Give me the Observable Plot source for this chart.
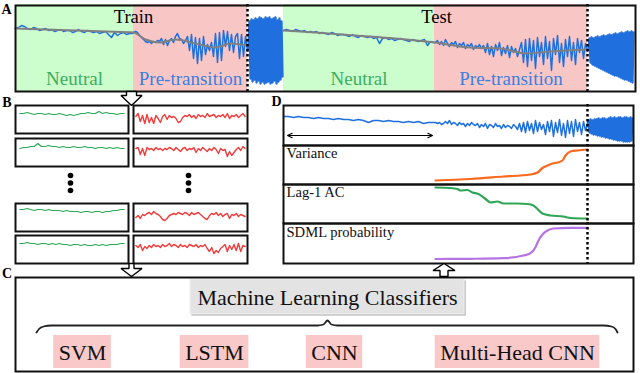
<!DOCTYPE html>
<html><head><meta charset="utf-8">
<script src="https://cdn.jsdelivr.net/npm/d3@7"></script>
<script src="https://cdn.jsdelivr.net/npm/@observablehq/plot@0.6"></script>
<style>
html,body{margin:0;padding:0;background:#fff;}
#chart{position:relative;width:640px;height:373px;overflow:hidden;}
#chart svg{position:absolute;overflow:visible;max-width:none;}
</style></head><body><div id="chart"></div>
<script>
// ================= DATA =================
// Panel A: phases of the simulated series (time steps)
const phaseKind  = ["neutral","pre","transition","neutral","pre","transition"];
const phaseLabel = ["Neutral","Pre-transition","","Neutral","Pre-transition",""];
const phaseStart = [0,118,232,268,419,572];
const phaseEnd   = [118,232,268,419,572,621];
const setNames   = ["Train","Test"];
const setSplit   = [118,421];

// Panel A signal, segment by segment
const trainNeutral = [20,21,23,22,20,19,21,20,18,19, 20,18,19,17,18,19,17,18,18,16, 17,19,17,16,18,17,16,17,15,16, 17,14,11,16,13,15,16,14,15,15];
const trainPre = [16,17,16,13,11,9,7,6,7,5,7,6,8, 7,10,4,9,3,8,10,6,12,15,10,9,5,8, 12,-2,14,-10,11,-15,10,-12,12,-6, 4,-2,6,-8,15,-14,16,-12, 18,2,17,-2,14,-4,12, 15,-10,14,-8,12,-2];
const trainTrans = [2,27,-30,29,-33,28,-31,30,-34,29,-32,31,-35,30,-33,29,-35,31,-34,30,-33,31,-35,29,-34,30,-32,31,-35,28,-33,30,-31,27,-28];
const testNeutral = [18,19,18,17,19,18,17,18,16,17, 16,17,15,16,15,14,16,15,13,14, 14,13,12,14,12,11,13,12,11,12, 10,11,5,10,11,9,10,8,9,10, 9,8,7,9,8,7,8,9,3,7, 6];
const testPre = [6,8,4,7,3,9,5,2,6,4,7,1,5,3,6,0,4,2,5,-1,3,1,4,0,
  3,-4,5,-6,2,-8,4,-2,6,-7,1,-5,3,-9,2,-4,0,-8,-1,
  6,-14,9,-18,10,-12,8,-20,11,-8,6,-16,12,-10,7,-22,10,-6,13,-14,5,-18,9,-8,12,-12,6,-16,10,-4,8,-10,5,-2];
const testTrans = [-1,10,-14,11,-16,10,-17,11,-18,12,-19,11,-20,12,-21,13,-22,12,-23,13,-24,14,-25,13,-26,14,-27,15,-27,14,-28,15,-29,16,-30,15,-31,16,-31,17,-32,16,-33,17,-34,16];
// smoothed trend (gray)
const trendTrainT = [0,30,60,90,118,130,145,160,180,200,215,232];
const trendTrainV = [20,19,18,17,16,9,6,9,5,1,5,3];
const trendTestT  = [268,300,340,380,419,455,485,510,535,572];
const trendTestV  = [18,16,13,10,6,1,0,-5,-3,-1];

// Panel B: windows (neutral = green, pre-transition = red)
const neutral1 = [6,6,7,6,5,6,6,5,6,5,5,6,5,4,5,4,5,6,6,7,6,6,8,6,7,6,6,5,6,6];
const neutral2 = [4,5,5,6,6,9,6,6,7,6,6,5,6,5,5,6,5,5,6,5,5,4,5,5,4,5,4,5,4,4];
const neutral3 = [8,8,9,8,7,8,8,7,8,7,7,7,6,7,6,6,6,5,6,6,5,6,6,5,6,6,7,7,8,8];
const neutral4 = [6,6,7,6,6,5,6,6,5,6,5,6,5,5,4,5,5,4,5,4,4,5,4,5,4,5,5,5,6,6];
const pre1 = [3,6,-2,4,-4,5,-3,2,-4,4,1,-3,3,5,0,4,2,3,1,-3,-2,2,4,3,5,2,4,1,5,3,4,2,6,3,4,5,2,4,3,5,2,6,1,4,3,5,2,4,6,3];
const pre2 = [4,5,-2,4,-3,5,3,4,2,5,3,4,2,4,3,5,4,2,5,3,1,4,5,2,4,3,5,0,4,2,5,3,1,4,2,5,3,-1,4,2,3,-4,1,-3,0,3,5,2,6,4];
const pre3 = [0,2,-1,3,2,4,5,3,6,4,3,1,-2,-3,-1,2,3,4,3,5,4,3,5,4,2,5,3,4,5,3,1,-1,-2,2,4,3,5,2,4,1,3,4,-1,3,2,4,1,3,2,1];
const pre4 = [4,2,5,-1,3,1,4,2,5,3,4,2,5,3,4,6,3,5,4,2,5,3,4,2,5,4,3,5,2,4,3,5,1,-2,2,-4,-1,-3,1,3,5,-2,4,0,5,-1,6,-2,4,3];

// Panel D: test series and rolling indicators
const dSeries1 = [9,9,8,9,8,8,7,8,7,7,6,7,6,6,5,6,5,3,5,5,4,5,4,4,3,4,3,4,2,3,3];
const dSeries2 = [3,2,3,1,2,4,2,5,1,3,2,0,3,1,2,-1,2,0,3,1,
  0,2,-2,1,-1,2,-3,1,0,-2,2,-1,0,-3,1,-2,0,-1,-3,1,
  -1,-4,2,-6,3,-7,4,-5,2,-8,5,-6,3,-4,1,-9,4,-6,5,-11,3,-7,6,-10,2,-12,5,-8,4,-11,6,-6,3,-9,4,-5,1];
const dSeries3 = [5,-7,6,-8,5,-9,6,-9,6,-10,7,-10,6,-11,7,-11,7,-12,6,-12,7,-13,8,-13,7,-14,8,-14,7,-15,8,-15,8,-15,7,-16,8,-16,8,-16,7,-16,8,-15,7];
const dTransition = 304;
const windowSpan = [4,149];
const indicatorNames = ["Variance","Lag-1 AC","SDML probability"];
const varianceT = [152,187,220,247,254,259,264,269,274,279,282,287,294,304];
const varianceV = [4,5.5,8,10,12,16.5,19,21,22,24,29,33,34,35];
const lagT = [152,167,174,177,184,189,195,202,207,214,220,234,244,250,254,259,267,280,287,304];
const lagV = [36,35.5,34.5,33,33.5,31,29.5,24.5,21,22,20,20,19.5,18,14.5,10,8,7,5.5,5];
const sdmlT = [152,187,220,240,247,252,255,259,264,270,287,304];
const sdmlV = [4.5,4.7,5.3,8,10.3,16.3,23,29,33,35,35.7,35.7];

// Panel C
const classifierTitle = "Machine Learning Classifiers";
const classifiers = ["SVM","LSTM","CNN","Multi-Head CNN"];
const panelLetters = ["A","B","C","D"];

// ================= STYLE / LAYOUT =================
const SERIF = '"Liberation Serif","Times New Roman",serif';
const FRAME = "#111";
const BLUE = "#1f6fde", GRAY = "#808080";
const PHASE_FILL = {neutral:"#ccfdcc", pre:"#f9c6c6", transition:"#ffffff"};
const PHASE_TEXT = {neutral:"#3cae63", pre:"#3a7fde", transition:"none"};
const GREEN_B = "#2aa956", RED_B = "#f23c3c";
const ORANGE = "#fb6a1c", GREEN_D = "#2ea656", PURPLE = "#b673e4";
const PINK_BOX = "#f9c8c8";
const BLUE_W = {calm:1.5, burst:2.3};

const chart = document.getElementById("chart");
function mk(opts){
  return Plot.plot({margin:0, color:{type:"identity"},
    style:{background:"transparent", fontFamily:SERIF, overflow:"visible"}, ...opts});
}
function place(svg,left,top){ svg.style.left=left+"px"; svg.style.top=top+"px"; chart.appendChild(svg); }
function seg(start,step,values,set,kind){ return values.map((v,i)=>({t:start+i*step, v, set, kind})); }
const frame = () => Plot.frame({stroke:FRAME, strokeWidth:2, inset:1});

// ---------- Panel A ----------
const phases = phaseKind.map((k,i)=>({kind:k, label:phaseLabel[i], start:phaseStart[i], end:phaseEnd[i]}));
const aSignal = [
  ...seg(0,3,trainNeutral,"train","calm"), ...seg(118,2,trainPre,"train","calm"),
  ...seg(268,3,testNeutral,"test","calm"), ...seg(420,2,testPre,"test","calm")];
const aBurst = [...seg(232,1,[trainPre[trainPre.length-1], ...trainTrans],"train","burst"), ...seg(572,1,[testPre[testPre.length-1], ...testTrans],"test","burst")];
const aTrend = [
  ...trendTrainT.map((t,i)=>({t, v:trendTrainV[i], set:"train"})),
  ...trendTestT.map((t,i)=>({t, v:trendTestV[i], set:"test"}))];
const dotted = phases.filter(p=>p.kind==="pre").map(p=>p.end);
place(mk({width:622, height:88,
  x:{domain:[-1,621], axis:null}, y:{domain:[-44,44], axis:null},
  marks:[
    Plot.rect(phases,{x1:"start", x2:"end", fill:d=>PHASE_FILL[d.kind]}),
    Plot.text(phases.filter(p=>p.label),{x:d=>(d.start+d.end)/2, y:-30, text:"label", fill:d=>PHASE_TEXT[d.kind], fontSize:19, fontFamily:SERIF}),
    Plot.text(setNames,{x:(d,i)=>setSplit[i], y:31, text:d=>d, fill:"#000", fontSize:18.5, fontFamily:SERIF}),
    Plot.line(aSignal,{x:"t", y:"v", z:"set", stroke:BLUE, strokeWidth:BLUE_W.calm}),
    Plot.line(aBurst,{x:"t", y:"v", z:"set", stroke:BLUE, strokeWidth:BLUE_W.burst}),
    Plot.line(aTrend,{x:"t", y:"v", z:"set", stroke:GRAY, strokeWidth:2, curve:"monotone-x"}),
    Plot.ruleX(dotted,{stroke:"#000", strokeWidth:2.5, strokeDasharray:"2.5,2.5"}),
    frame()
  ]}), 14, 4);

// ---------- Panel B ----------
const neutrals = [neutral1,neutral2,neutral3,neutral4];
const pres = [pre1,pre2,pre3,pre4];
const B_TOPS = [104,137,202,234];
B_TOPS.forEach((top,i)=>{
  [[neutrals[i],GREEN_B,14,115,1.2],[pres[i],RED_B,132,116,1.4]].forEach(([vals,col,left,w,sw])=>{
    place(mk({width:w, height:30,
      x:{domain:[-1.5, vals.length+0.5], axis:null}, y:{domain:[-15,15], axis:null},
      marks:[Plot.lineY(vals,{stroke:col, strokeWidth:sw}), frame()]}), left, top);
  });
});

// ---------- Panel D ----------
const dSignal = [...seg(0,5,dSeries1,"d","calm"), ...seg(152,2,dSeries2,"d","calm")];
const dBurst = seg(304,1,[dSeries2[dSeries2.length-1], ...dSeries3],"d","burst");
const dx = {domain:[-1,351], axis:null};
const dRule = () => Plot.ruleX([dTransition],{stroke:"#000", strokeWidth:2.5, strokeDasharray:"2.5,2.5"});
const mid = (windowSpan[0]+windowSpan[1])/2;
place(mk({width:352, height:42, x:dx, y:{domain:[-21,21], axis:null},
  marks:[
    Plot.line(dSignal,{x:"t", y:"v", stroke:BLUE, strokeWidth:BLUE_W.calm}),
    Plot.line(dBurst,{x:"t", y:"v", stroke:BLUE, strokeWidth:BLUE_W.burst}),
    Plot.arrow(windowSpan,{x1:mid, x2:d=>d, y1:-10, y2:-10, stroke:"#000", strokeWidth:1.1, headLength:7, headAngle:50}),
    dRule(), frame()]}), 282, 104);
const indicators = [
  {name:indicatorNames[0], t:varianceT, v:varianceV, color:ORANGE, top:144, h:41, dom:[-1,40]},
  {name:indicatorNames[1], t:lagT, v:lagV, color:GREEN_D, top:183, h:41, dom:[-1,40]},
  {name:indicatorNames[2], t:sdmlT, v:sdmlV, color:PURPLE, top:222, h:42, dom:[-1,41]}];
indicators.forEach(ind=>{
  const pts = ind.t.map((t,i)=>({t, v:ind.v[i]}));
  place(mk({width:352, height:ind.h, x:dx, y:{domain:ind.dom, axis:null},
    marks:[
      Plot.line(pts,{x:"t", y:"v", stroke:ind.color, strokeWidth:2.2, curve:"monotone-x"}),
      Plot.text([ind.name],{x:3, y:31, text:d=>d, textAnchor:"start", fill:"#111", fontSize:14.6, fontFamily:SERIF}),
      dRule(), frame()]}), 282, ind.top);
});

// ---------- Panel C ----------
const ctx = document.createElement("canvas").getContext("2d");
function textW(s,size){ ctx.font = `${size}px "Liberation Serif"`; return ctx.measureText(s).width; }
const C_TITLE = {x:313, y:21, size:22, padX:7, y1:3, y2:38};
const C_CLS = {x:[68,200,320,503], y:76, size:22, padX:5, y1:59, y2:92};
const tw = textW(classifierTitle, C_TITLE.size);
const titleBox = [{x1:C_TITLE.x-tw/2-C_TITLE.padX, x2:C_TITLE.x+tw/2+C_TITLE.padX, y1:C_TITLE.y1, y2:C_TITLE.y2}];
const clsBoxes = classifiers.map((c,i)=>{const w=textW(c,C_CLS.size); return {name:c, cx:C_CLS.x[i], x1:C_CLS.x[i]-w/2-C_CLS.padX, x2:C_CLS.x[i]+w/2+C_CLS.padX};});
const brace = [[22,56],[24.5,52.5],[29,50],[37,49],[303,49],[309,48],[313,44],[317,48],[323,49],[589,49],[597,50],[601,52.5],[603,56]];
place(mk({width:620, height:96, x:{domain:[0,620], axis:null}, y:{domain:[0,96], axis:null, reverse:true},
  marks:[
    Plot.rect(titleBox,{x1:d=>d.x1+1.5, x2:d=>d.x2+1.5, y1:d=>d.y1+1.5, y2:d=>d.y2+1.5, fill:"#a9a9a9"}),
    Plot.rect(titleBox,{x1:"x1", x2:"x2", y1:"y1", y2:"y2", fill:"#e3e3e3", stroke:"#f4f4f4", strokeWidth:1}),
    Plot.text([classifierTitle],{x:C_TITLE.x, y:C_TITLE.y, text:d=>d, fontSize:C_TITLE.size, fill:"#111", fontFamily:SERIF}),
    Plot.line(brace,{x:d=>d[0], y:d=>d[1], stroke:"#222", strokeWidth:1.8, curve:"monotone-x"}),
    Plot.rect(clsBoxes,{x1:"x1", x2:"x2", y1:C_CLS.y1, y2:C_CLS.y2, fill:PINK_BOX}),
    Plot.text(clsBoxes,{x:"cx", y:C_CLS.y, text:"name", fontSize:C_CLS.size, fill:"#111", fontFamily:SERIF}),
    frame()]}), 14, 276);

// ---------- Overlay: letters, flow arrows, ellipsis ----------
function hollowArrow(cx, yFrom, yTip, shaftHalf, headHalf, headLen, id){
  const d = Math.sign(yTip-yFrom), yb = yTip - d*headLen;
  return [[cx-shaftHalf,yFrom],[cx-shaftHalf,yb],[cx-headHalf,yb],[cx,yTip],[cx+headHalf,yb],[cx+shaftHalf,yb],[cx+shaftHalf,yFrom],[cx-shaftHalf,yFrom]].map(p=>({x:p[0], y:p[1], id}));
}
const arrows = [
  ...hollowArrow(131,91,105,5,10.5,10,"ab"),
  ...hollowArrow(131,263,276,2.5,10.5,8,"bc"),
  ...hollowArrow(443.5,276,263,4,11,7,"cd")];
const LETTER_POS = [[6,9.5],[6.5,102.5],[6.5,273],[276,101.5]];
const ELLIPSIS_X = [70,188], ELLIPSIS_Y = [175,182.5,190];
const ellipsis = ELLIPSIS_X.flatMap(x=>ELLIPSIS_Y.map(y=>({x,y})));
place(mk({width:640, height:373, x:{domain:[0,640], axis:null}, y:{domain:[0,373], axis:null, reverse:true},
  marks:[
    Plot.line(arrows,{x:"x", y:"y", z:"id", fill:"white", stroke:"#000", strokeWidth:1.4, strokeLinejoin:"miter"}),
    Plot.dot(ellipsis,{x:"x", y:"y", r:2.8, fill:"#000", stroke:null}),
    Plot.text(panelLetters,{x:(d,i)=>LETTER_POS[i][0], y:(d,i)=>LETTER_POS[i][1], text:d=>d, fontSize:14, fontWeight:"bold", fill:"#000", fontFamily:SERIF})
  ]}), 0, 0);
</script></body></html>
